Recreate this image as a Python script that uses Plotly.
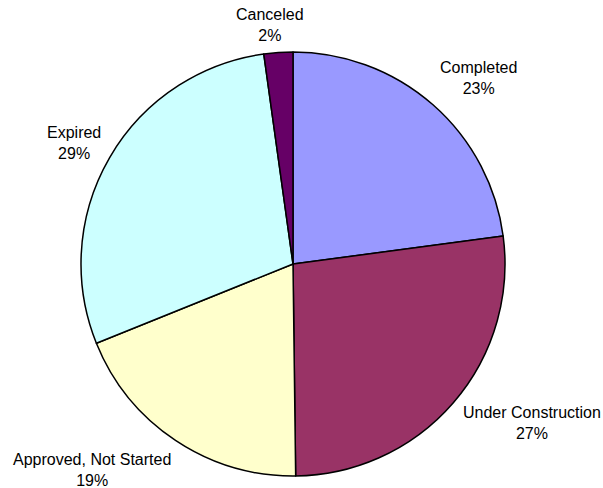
import plotly.graph_objects as go

# Project status breakdown (share of projects)
labels = ["Completed", "Under Construction", "Approved, Not Started", "Expired", "Canceled"]
values = [22.9, 26.9, 19.1, 28.9, 2.2]
colors = ["#9999FF", "#993366", "#FFFFCC", "#CCFFFF", "#660066"]

# Label placement (pixel centres of each two-line label block)
label_px = [(478, 78), (532, 423), (92, 470), (74, 143), (270, 25)]

W, H = 603, 488
cx, cy, r = 293, 264, 212

fig = go.Figure(
    go.Pie(
        labels=labels,
        values=values,
        sort=False,
        direction="clockwise",
        rotation=0,
        marker=dict(colors=colors, line=dict(color="black", width=1.5)),
        textinfo="none",
        hoverinfo="label+percent",
        domain=dict(
            x=[(cx - r) / W, (cx + r) / W],
            y=[(H - cy - r) / H, (H - cy + r) / H],
        ),
    )
)

total = sum(values)
for lab, val, (px, py) in zip(labels, values, label_px):
    fig.add_annotation(
        x=px / W,
        y=1 - py / H,
        xref="paper",
        yref="paper",
        xanchor="center",
        yanchor="middle",
        text=f"{lab}<br>{round(100 * val / total)}%",
        showarrow=False,
        font=dict(family="Arial, Liberation Sans, sans-serif", size=16, color="black"),
    )

fig.update_layout(
    width=W,
    height=H,
    margin=dict(l=0, r=0, t=0, b=0),
    showlegend=False,
    paper_bgcolor="white",
    plot_bgcolor="white",
)

fig.write_html("out.html")
